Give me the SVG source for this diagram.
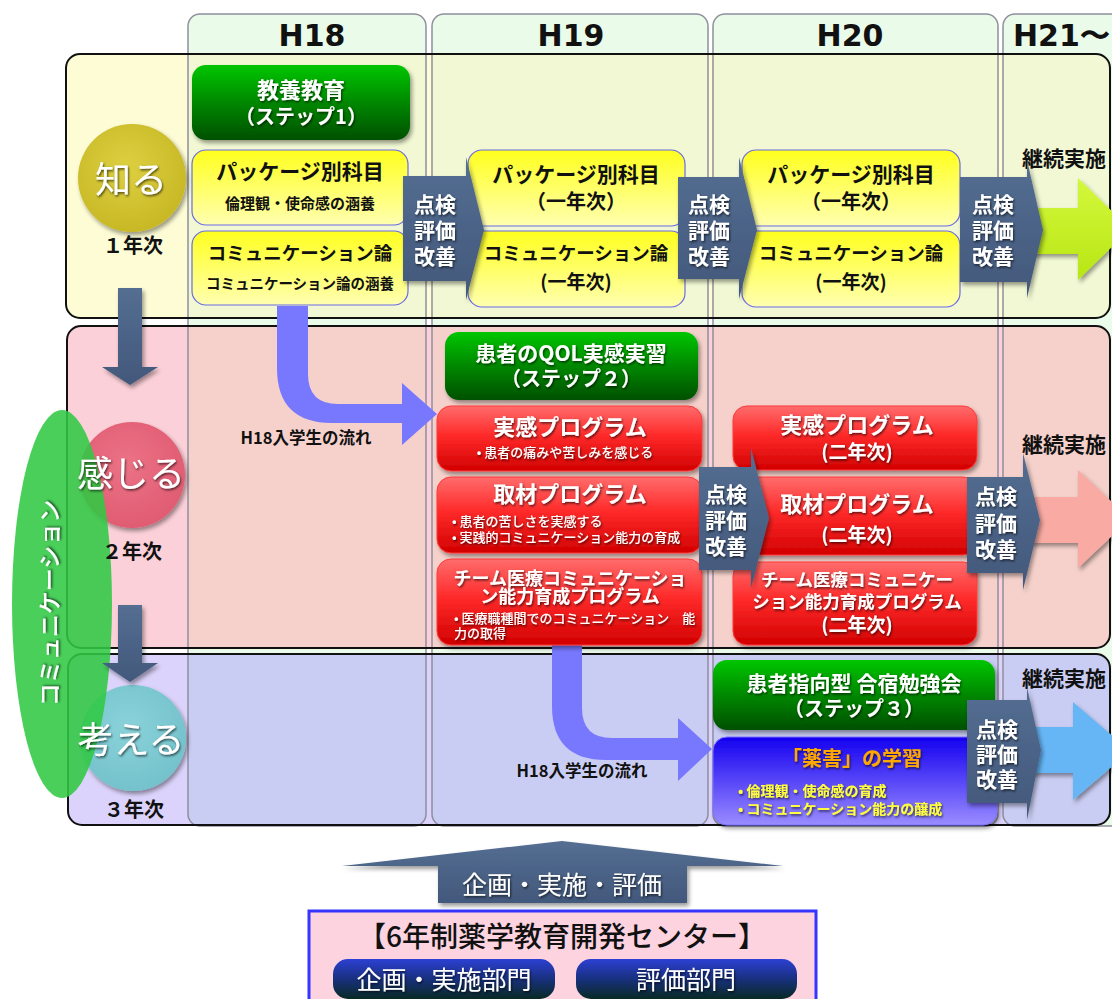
<svg xmlns="http://www.w3.org/2000/svg" width="1112" height="999" viewBox="0 0 1112 999">
<style>
.jp{font-family:"Noto Sans CJK JP","Noto Sans",sans-serif}
.b{font-weight:700}
.w{fill:#fff}
.k{fill:#111}
.t{text-anchor:middle;dominant-baseline:central}
.l{text-anchor:start;dominant-baseline:central}
.colbg{fill:#ebfbea;stroke:none}
.colln{fill:none;stroke:#8f8f9e;stroke-width:1.5}
.rowln{fill:none;stroke:#111;stroke-width:2}
.slate{fill:url(#gSlate)}
.hd{font-family:"DejaVu Sans",sans-serif;font-weight:700;font-size:30px;fill:#111}
.grn{fill:url(#gGreen)}
.red{fill:url(#gRed);stroke:#ff3a3a;stroke-width:1}
.yel{fill:url(#gYel);stroke:#6a6ae6;stroke-width:1.2}
.flow{fill:#7878ff}
</style>
<defs>
<linearGradient id="gGreen" x1="0" y1="0" x2="0" y2="1"><stop offset="0" stop-color="#00c600"/><stop offset="0.5" stop-color="#008800"/><stop offset="1" stop-color="#005000"/></linearGradient>
<linearGradient id="gRed" x1="0" y1="0" x2="0" y2="1"><stop offset="0" stop-color="#ff6c6c"/><stop offset="0.45" stop-color="#ff2a2a"/><stop offset="1" stop-color="#d20000"/></linearGradient>
<linearGradient id="gYel" x1="0" y1="0" x2="0" y2="1"><stop offset="0" stop-color="#ffff1e"/><stop offset="1" stop-color="#ffffb0"/></linearGradient>
<linearGradient id="gPur" x1="0" y1="0" x2="0" y2="1"><stop offset="0" stop-color="#1400f0"/><stop offset="1" stop-color="#9a8cff"/></linearGradient>
<linearGradient id="gSlate" x1="0" y1="0" x2="0" y2="1"><stop offset="0" stop-color="#546e92"/><stop offset="1" stop-color="#42587b"/></linearGradient>
<linearGradient id="gNavy" x1="0" y1="0" x2="0" y2="1"><stop offset="0" stop-color="#2c40d4"/><stop offset="0.5" stop-color="#18307e"/><stop offset="1" stop-color="#082a24"/></linearGradient>
<linearGradient id="gLime" x1="0" y1="0" x2="0" y2="1"><stop offset="0" stop-color="#d4f83c"/><stop offset="1" stop-color="#b8e614"/></linearGradient>
<radialGradient id="cY" cx="0.45" cy="0.4" r="0.6"><stop offset="0" stop-color="#ddd040"/><stop offset="1" stop-color="#c8b826"/></radialGradient>
<radialGradient id="cP" cx="0.45" cy="0.4" r="0.6"><stop offset="0" stop-color="#ec7286"/><stop offset="1" stop-color="#e05c72"/></radialGradient>
<radialGradient id="cB" cx="0.45" cy="0.4" r="0.6"><stop offset="0" stop-color="#8ad2da"/><stop offset="1" stop-color="#74c2cc"/></radialGradient>
<filter id="sh" x="-10%" y="-10%" width="125%" height="135%"><feDropShadow dx="2" dy="3" stdDeviation="2" flood-color="#000" flood-opacity="0.4"/></filter>
<filter id="ts" x="-10%" y="-20%" width="125%" height="150%"><feDropShadow dx="1" dy="1.5" stdDeviation="0.8" flood-color="#000" flood-opacity="0.65"/></filter>
<clipPath id="cp1"><rect x="66" y="54" width="1044" height="264" rx="14"/></clipPath>
<clipPath id="cp2"><rect x="67" y="326" width="1043" height="322" rx="14"/></clipPath>
<clipPath id="cp3"><rect x="68" y="654" width="1042" height="171" rx="14"/></clipPath>
</defs>

<rect width="1112" height="999" fill="#fff"/>

<g id="grid">
<rect class="colbg" x="188" y="14" width="238" height="812" rx="12"/>
<rect class="colbg" x="432" y="14" width="276" height="812" rx="12"/>
<rect class="colbg" x="713" y="14" width="285" height="812" rx="12"/>
<rect class="colbg" x="1003" y="14" width="125" height="812" rx="12"/>
<rect x="66" y="54" width="1044" height="264" rx="14" fill="#fdfcd5"/>
<rect x="67" y="326" width="1043" height="322" rx="14" fill="#fcd0d8"/>
<rect x="68" y="654" width="1042" height="171" rx="14" fill="#dbd3fb"/>
<g clip-path="url(#cp1)" fill="#f1f8d3">
<rect x="188" y="54" width="238" height="264"/><rect x="432" y="54" width="276" height="264"/><rect x="713" y="54" width="285" height="264"/><rect x="1003" y="54" width="125" height="264"/>
</g>
<g clip-path="url(#cp2)" fill="#f6d1cb">
<rect x="188" y="326" width="238" height="322"/><rect x="432" y="326" width="276" height="322"/><rect x="713" y="326" width="285" height="322"/><rect x="1003" y="326" width="125" height="322"/>
</g>
<g clip-path="url(#cp3)" fill="#cacdf3">
<rect x="188" y="600" width="238" height="226" rx="12"/><rect x="432" y="600" width="276" height="226" rx="12"/><rect x="713" y="600" width="285" height="226" rx="12"/><rect x="1003" y="600" width="125" height="226" rx="12"/>
</g>
<rect class="colln" x="188" y="14" width="238" height="812" rx="12"/>
<rect class="colln" x="432" y="14" width="276" height="812" rx="12"/>
<rect class="colln" x="713" y="14" width="285" height="812" rx="12"/>
<rect class="colln" x="1003" y="14" width="125" height="812" rx="12"/>
<rect class="rowln" x="66" y="54" width="1044" height="264" rx="14"/>
<rect class="rowln" x="67" y="326" width="1043" height="322" rx="14"/>
<rect class="rowln" x="68" y="654" width="1042" height="171" rx="14"/>
<text class="hd t" x="312" y="35">H18</text>
<text class="hd t" x="571" y="35">H19</text>
<text class="hd t" x="850" y="35">H20</text>
<text class="hd" x="1013" y="35" dominant-baseline="central">H21〜</text>
</g>

<g id="stages">
<circle cx="132" cy="178" r="54" fill="url(#cY)" filter="url(#sh)"/>
<circle cx="132" cy="475" r="53" fill="url(#cP)" filter="url(#sh)"/>
<circle cx="133" cy="738" r="53" fill="url(#cB)" filter="url(#sh)"/>
<ellipse cx="62" cy="604" rx="50" ry="194" fill="#30c843" opacity="0.88"/>
<text class="jp w t" font-size="23" font-weight="500" transform="rotate(-90 48 603)" x="48" y="603" filter="url(#ts)">コミュニケーション</text>
<text class="jp w t" font-size="36" x="131" y="177" filter="url(#ts)">知る</text>
<text class="jp w t" font-size="36" x="131" y="471" filter="url(#ts)">感じる</text>
<text class="jp w t" font-size="36" x="131" y="737" filter="url(#ts)">考える</text>
<text class="jp b k t" font-size="20" x="133" y="244">１年次</text>
<text class="jp b k t" font-size="20" x="132" y="550">２年次</text>
<text class="jp b k t" font-size="20" x="134" y="808">３年次</text>
</g>

<g id="connectors">
<path class="slate" filter="url(#sh)" d="M118,288 H142 V367 H158 L130,385 L102,367 H118 Z"/>
<path class="slate" filter="url(#sh)" d="M118,605 H142 V663 H158 L130,682 L102,663 H118 Z"/>
<path class="flow" d="M277,306 V368 Q277,423 332,423 H402 V445 L437,414 L402,383 V404 H338 Q308,404 308,374 V306 Z"/>
<path class="flow" d="M552,645 V706 Q552,760 606,760 H678 V781 L712,749 L678,718 V738 H612 Q582,738 582,708 V645 Z"/>
<text class="jp b k t" font-size="16.5" x="306" y="437">H18入学生の流れ</text>
<text class="jp b k t" font-size="16.5" x="582" y="770">H18入学生の流れ</text>
<path fill="url(#gLime)" filter="url(#sh)" d="M1030,208 H1078 V178 L1130,229 L1078,280 V254 H1030 Z"/>
<path fill="#f8aaa3" filter="url(#sh)" d="M1030,497 H1078 V470 L1130,519 L1078,568 V543 H1030 Z"/>
<path fill="#66b6f6" filter="url(#sh)" d="M1030,727 H1073 V702 L1130,751 L1073,800 V773 H1030 Z"/>
<text class="jp b k t" font-size="21" x="1064" y="157">継続実施</text>
<text class="jp b k t" font-size="21" x="1064" y="443">継続実施</text>
<text class="jp b k t" font-size="21" x="1064" y="677">継続実施</text>
</g>

<g id="step1">
<rect class="grn" x="192" y="65" width="218" height="75" rx="14" filter="url(#sh)"/>
<text class="jp b w t" filter="url(#ts)"><tspan x="301" y="88" font-size="22">教養教育</tspan><tspan x="301" y="115" font-size="20">（ステップ1）</tspan></text>
</g>
<g id="pkg-h18">
<rect class="yel" x="192" y="150" width="216" height="75" rx="14"/>
<text class="jp b k t"><tspan x="300" y="170" font-size="21">パッケージ別科目</tspan><tspan x="300" y="202" font-size="15">倫理観・使命感の涵養</tspan></text>
</g>
<g id="comm-h18">
<rect class="yel" x="192" y="231" width="216" height="74" rx="14"/>
<text class="jp b k t"><tspan x="300" y="252" font-size="18.5">コミュニケーション論</tspan><tspan x="300" y="282" font-size="14.5">コミュニケーション論の涵養</tspan></text>
</g>
<g id="pkg-h19">
<rect class="yel" x="468" y="150" width="217" height="76" rx="14"/>
<text class="jp b k t"><tspan x="576" y="173" font-size="21">パッケージ別科目</tspan><tspan x="576" y="200" font-size="20">（一年次）</tspan></text>
</g>
<g id="comm-h19">
<rect class="yel" x="468" y="231" width="217" height="76" rx="14"/>
<text class="jp b k t"><tspan x="576" y="252" font-size="18.5">コミュニケーション論</tspan><tspan x="576" y="280" font-size="19">(一年次)</tspan></text>
</g>
<g id="pkg-h20">
<rect class="yel" x="742" y="150" width="218" height="76" rx="14"/>
<text class="jp b k t"><tspan x="851" y="173" font-size="21">パッケージ別科目</tspan><tspan x="851" y="200" font-size="20">（一年次）</tspan></text>
</g>
<g id="comm-h20">
<rect class="yel" x="742" y="231" width="218" height="76" rx="14"/>
<text class="jp b k t"><tspan x="851" y="252" font-size="18.5">コミュニケーション論</tspan><tspan x="851" y="280" font-size="19">(一年次)</tspan></text>
</g>

<g id="step2">
<rect class="grn" x="445" y="332" width="253" height="68" rx="14" filter="url(#sh)"/>
<text class="jp b w t" filter="url(#ts)"><tspan x="571" y="352" font-size="21">患者のQOL実感実習</tspan><tspan x="571" y="377" font-size="20">（ステップ２）</tspan></text>
</g>
<g id="jikkan-h19">
<rect class="red" x="437" y="406" width="265" height="65" rx="14" filter="url(#sh)"/>
<text class="jp w t" filter="url(#ts)"><tspan x="570" y="425" font-size="22" font-weight="700">実感プログラム</tspan><tspan x="565" y="451" font-size="13" font-weight="500">• 患者の痛みや苦しみを感じる</tspan></text>
</g>
<g id="shuzai-h19">
<rect class="red" x="437" y="477" width="265" height="76" rx="14" filter="url(#sh)"/>
<text class="jp b w t" font-size="22" x="570" y="492" filter="url(#ts)">取材プログラム</text>
<text class="jp w l" font-size="13" font-weight="500" filter="url(#ts)"><tspan x="452" y="520">• 患者の苦しさを実感する</tspan><tspan x="452" y="536">• 実践的コミュニケーション能力の育成</tspan></text>
</g>
<g id="team-h19">
<rect class="red" x="437" y="559" width="265" height="86" rx="14" filter="url(#sh)"/>
<text class="jp b w t" font-size="18" filter="url(#ts)"><tspan x="570" y="577">チーム医療コミュニケーショ</tspan><tspan x="570" y="595">ン能力育成プログラム</tspan></text>
<text class="jp w l" font-size="13" font-weight="500" filter="url(#ts)"><tspan x="454" y="617">• 医療職種間でのコミュニケーション　能</tspan><tspan x="454" y="632">力の取得</tspan></text>
</g>
<g id="jikkan-h20">
<rect class="red" x="733" y="406" width="244" height="64" rx="14" filter="url(#sh)"/>
<text class="jp b w t" filter="url(#ts)"><tspan x="857" y="423" font-size="22">実感プログラム</tspan><tspan x="857" y="450" font-size="19">(二年次)</tspan></text>
</g>
<g id="shuzai-h20">
<rect class="red" x="733" y="477" width="244" height="78" rx="14" filter="url(#sh)"/>
<text class="jp b w t" filter="url(#ts)"><tspan x="857" y="502" font-size="22">取材プログラム</tspan><tspan x="857" y="533" font-size="19">(二年次)</tspan></text>
</g>
<g id="team-h20">
<rect class="red" x="733" y="562" width="244" height="83" rx="14" filter="url(#sh)"/>
<text class="jp b w t" filter="url(#ts)"><tspan x="857" y="578" font-size="17.5">チーム医療コミュニケー</tspan><tspan x="857" y="600" font-size="17.5">ション能力育成プログラム</tspan><tspan x="857" y="623" font-size="19">(二年次)</tspan></text>
</g>

<g id="step3">
<rect class="grn" x="713" y="660" width="282" height="70" rx="14" filter="url(#sh)"/>
<text class="jp b w t" filter="url(#ts)"><tspan x="854" y="682" font-size="21">患者指向型 合宿勉強会</tspan><tspan x="854" y="707" font-size="20">（ステップ３）</tspan></text>
</g>
<g id="yakugai">
<rect x="713" y="737" width="284" height="88" rx="14" fill="url(#gPur)" stroke="#7a70ff" filter="url(#sh)"/>
<text class="jp b t" font-size="20" fill="#ffa800" x="852" y="757" filter="url(#ts)">「薬害」の学習</text>
<text class="jp b l" font-size="14" fill="#ffff3c" filter="url(#ts)"><tspan x="738" y="790">• 倫理観・使命感の育成</tspan><tspan x="738" y="808">• コミュニケーション能力の醸成</tspan></text>
</g>

<g id="review">
<path class="slate" filter="url(#sh)" d="M403,176 H466 V157 L484,230 L466,300 V281 H403 Z"/>
<path class="slate" filter="url(#sh)" d="M678,177 H739 V157 L757,230 L739,299 V279 H678 Z"/>
<path class="slate" filter="url(#sh)" d="M960,177 H1027 V160 L1043,230 L1027,298 V282 H960 Z"/>
<path class="slate" filter="url(#sh)" d="M699,467 H751 V448 L769,518 L751,588 V570 H699 Z"/>
<path class="slate" filter="url(#sh)" d="M967,477 H1023 V453 L1040,520 L1023,590 V573 H967 Z"/>
<path class="slate" filter="url(#sh)" d="M967,700 H1027 V687 L1041,750 L1027,820 V803 H967 Z"/>
<g class="jp b w" font-size="21" filter="url(#ts)">
<text class="t"><tspan x="435" y="203">点検</tspan><tspan x="435" y="229">評価</tspan><tspan x="435" y="255">改善</tspan></text>
<text class="t"><tspan x="709" y="203">点検</tspan><tspan x="709" y="229">評価</tspan><tspan x="709" y="255">改善</tspan></text>
<text class="t"><tspan x="993" y="203">点検</tspan><tspan x="993" y="229">評価</tspan><tspan x="993" y="255">改善</tspan></text>
<text class="t"><tspan x="726" y="493">点検</tspan><tspan x="726" y="519">評価</tspan><tspan x="726" y="545">改善</tspan></text>
<text class="t"><tspan x="996" y="495">点検</tspan><tspan x="996" y="522">評価</tspan><tspan x="996" y="548">改善</tspan></text>
<text class="t"><tspan x="997" y="728">点検</tspan><tspan x="997" y="753">評価</tspan><tspan x="997" y="778">改善</tspan></text>
</g>
</g>

<g id="plan-arrow">
<path class="slate" filter="url(#sh)" d="M342,866 L562,841 L783,866 H687 V903 H438 V866 Z"/>
<text class="jp w t" font-size="25" x="562" y="883" filter="url(#ts)">企画・実施・評価</text>
</g>
<g id="center">
<rect x="309" y="911" width="507" height="100" fill="#fcd3df" stroke="#3535ff" stroke-width="3"/>
<text class="jp k t" font-size="28" font-weight="500" x="562" y="935">【6年制薬学教育開発センター】</text>
</g>
<g id="dept-plan">
<rect x="333" y="959" width="222" height="40" rx="15" fill="url(#gNavy)"/>
<text class="jp w t" font-size="25" x="444" y="978" filter="url(#ts)">企画・実施部門</text>
</g>
<g id="dept-eval">
<rect x="576" y="959" width="221" height="40" rx="15" fill="url(#gNavy)"/>
<text class="jp w t" font-size="25" x="686" y="978" filter="url(#ts)">評価部門</text>
</g>
</svg>
